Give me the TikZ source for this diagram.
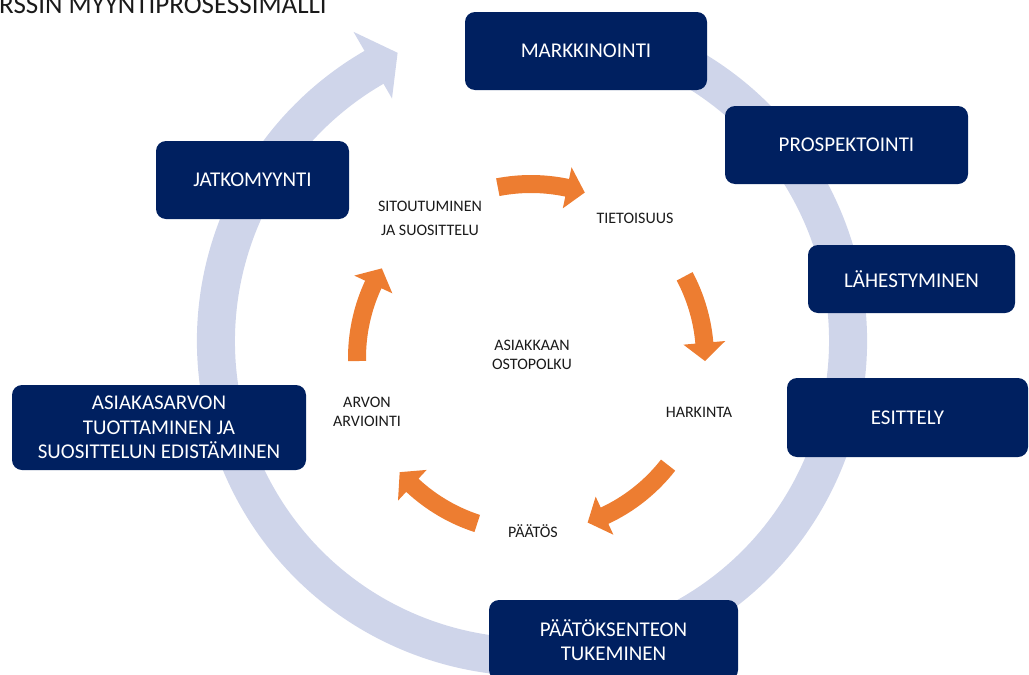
\documentclass[tikz,border=0pt]{standalone}
\usepackage{fontspec}
\setmainfont{Carlito}
\definecolor{navy}{HTML}{002060}
\definecolor{ringc}{RGB}{207,213,234}
\definecolor{orng}{HTML}{ED7D31}
\definecolor{txt}{HTML}{1A1A1A}
\newcommand{\orarr}[2]{%
  \fill[orng] ([shift={(#1:183pt)}]O) arc[start angle=#1, end angle=#2+6, radius=183pt]
    -- ([shift={({#2+6}:195pt)}]O) -- ([shift={(#2:174pt)}]O) -- ([shift={({#2+6}:153pt)}]O)
    -- ([shift={({#2+6}:165pt)}]O) arc[start angle=#2+6, end angle=#1, radius=165pt] -- cycle;}
\begin{document}
\begin{tikzpicture}[x=1pt,y=1pt,
  box/.style={fill=navy, rounded corners=10pt, text=white, align=center, inner sep=0pt,
    font=\fontsize{21}{24.5}\selectfont},
  lbl/.style={align=center, text=txt, inner sep=0pt, font=\fontsize{16}{19.5}\selectfont}]
\useasboundingbox (0,0) rectangle (1029,-675);
\coordinate (C) at (532,-341);
\coordinate (O) at (531,-358);
% big ring arrow
\fill[ringc] ([shift={(70:335pt)}]C) arc[start angle=70, end angle=-240, radius=335pt]
  -- ([shift={(-240:357pt)}]C) -- ([shift={(-245:318pt)}]C) -- ([shift={(-240:280pt)}]C)
  -- ([shift={(-240:297pt)}]C) arc[start angle=-240, end angle=70, radius=297pt] -- cycle;
% title
\node[anchor=base west, inner sep=0pt, text=txt, font=\fontsize{27}{30}\selectfont] (title) at (-1,-13) {RSSIN MYYNTIPROSESSIMALLI};
% boxes
\node[box, minimum width=242pt, minimum height=78pt] (markk) at (586,-51) {MARKKINOINTI};
\node[box, minimum width=243pt, minimum height=78pt] (prosp) at (846.5,-145) {PROSPEKTOINTI};
\node[box, minimum width=207pt, minimum height=68pt] (lahes) at (911.5,-279) {LÄHESTYMINEN};
\node[box, minimum width=241pt, minimum height=79pt] (esit) at (907.5,-417.5) {ESITTELY};
\node[box, minimum width=249pt, minimum height=80pt] (paat) at (613.5,-640) {PÄÄTÖKSENTEON\\TUKEMINEN};
\node[box, minimum width=294pt, minimum height=85pt] (asiak) at (159,-427.5) {ASIAKASARVON\\TUOTTAMINEN JA\\SUOSITTELUN EDISTÄMINEN};
\node[box, minimum width=193pt, minimum height=78pt] (jatko) at (252.5,-180) {JATKOMYYNTI};
% orange cycle arrows
\orarr{101}{72}
\orarr{28}{-1}
\orarr{-38}{-71}
\orarr{-108}{-139}
\orarr{181}{149}
% inner labels
\node[lbl, font=\fontsize{16}{24}\selectfont] (sitou) at (430,-218) {SITOUTUMINEN\\JA SUOSITTELU};
\node[lbl] (tieto) at (635,-218) {TIETOISUUS};
\node[lbl] (harki) at (699,-412) {HARKINTA};
\node[lbl] (paatos) at (533,-531) {PÄÄTÖS};
\node[lbl] (arvon) at (367,-412) {ARVON\\ARVIOINTI};
\node[lbl] (asiakk) at (532,-355) {ASIAKKAAN\\OSTOPOLKU};
\end{tikzpicture}
\end{document}
